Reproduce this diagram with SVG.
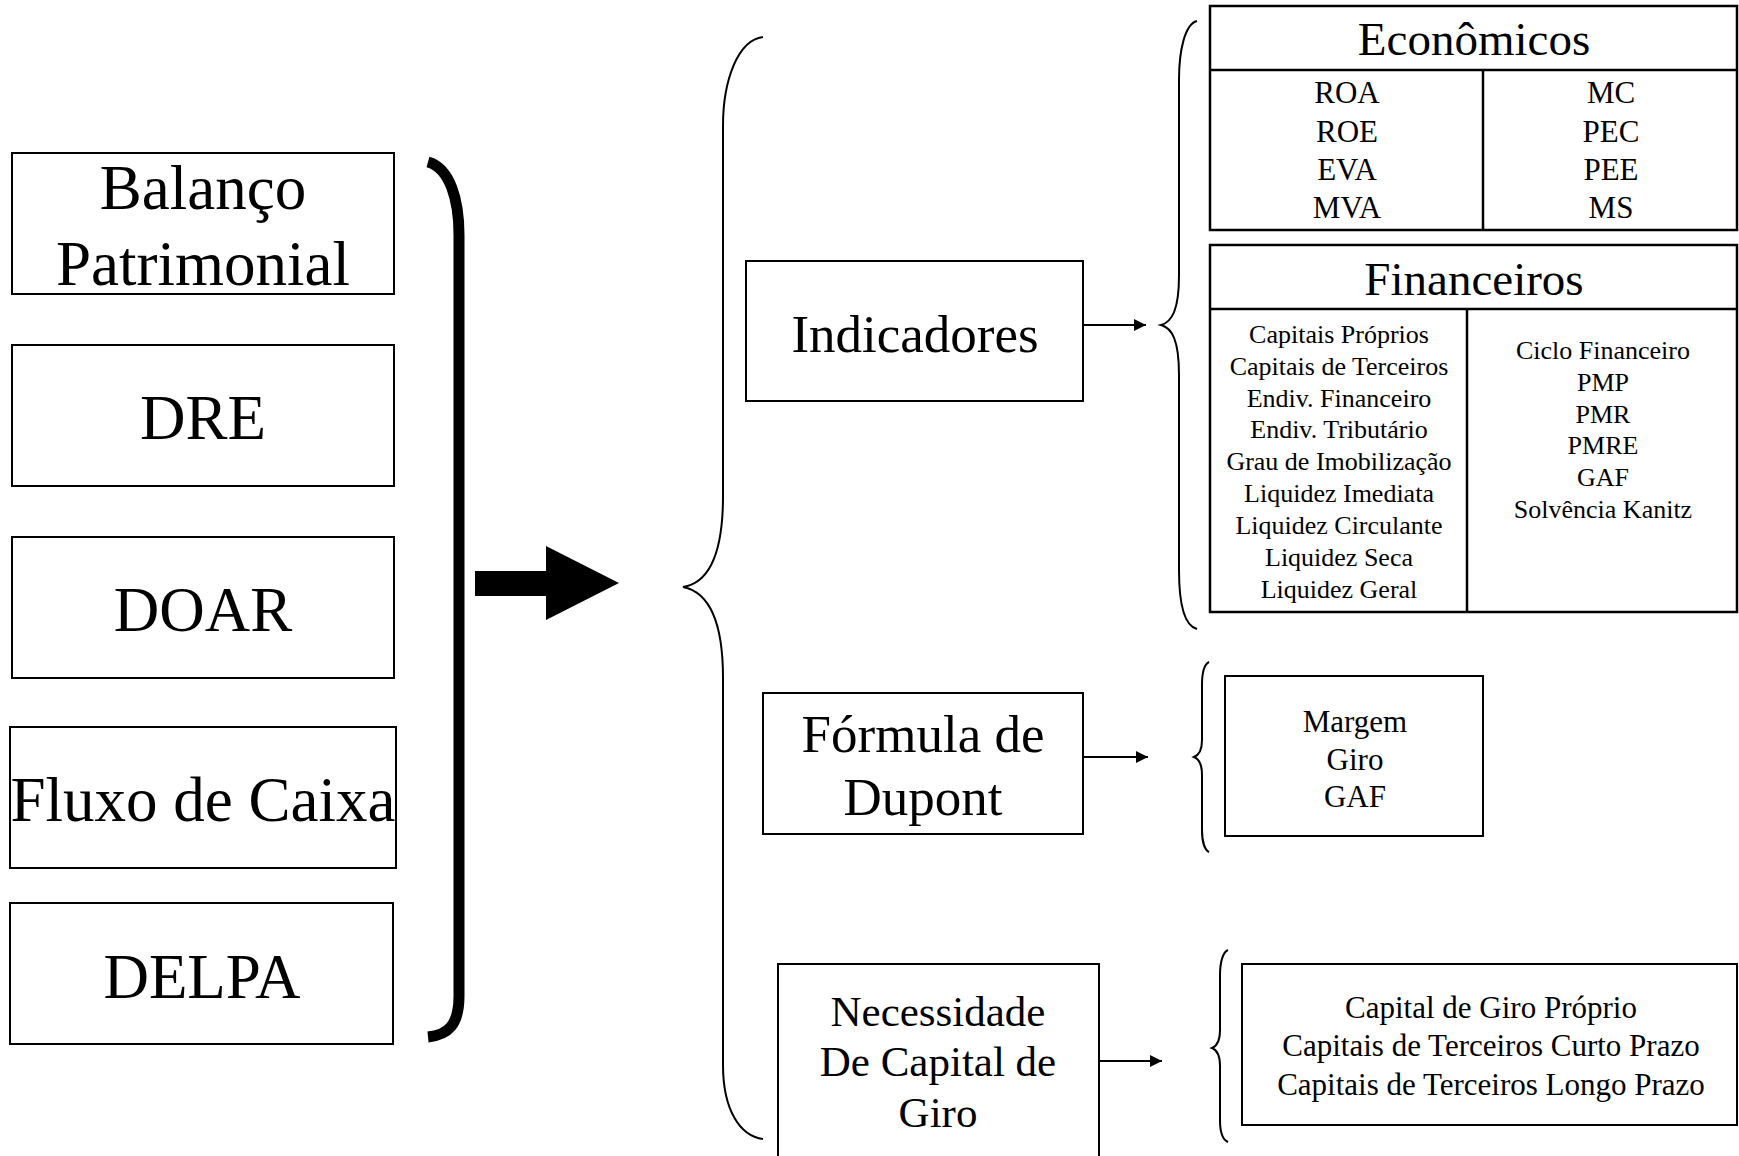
<svg xmlns="http://www.w3.org/2000/svg" width="1739" height="1156" viewBox="0 0 1739 1156">
<style>
text{font-family:"Liberation Serif","Times New Roman",serif;fill:#000;text-anchor:middle}
.box{fill:#fff;stroke:#000;stroke-width:2}
.tbl{fill:#fff;stroke:#000;stroke-width:2.5}
.ln{fill:none;stroke:#000;stroke-width:2.5}
.brace{fill:none;stroke:#000;stroke-width:2}
.big{font-size:63px}
.mid{font-size:53px}
.hd{font-size:47px}
.it{font-size:31px}
.sm{font-size:26px}
</style>
<defs>
<marker id="ah" viewBox="0 0 12 12" refX="12" refY="6" markerWidth="12" markerHeight="12" markerUnits="userSpaceOnUse" orient="auto">
<path d="M0,0 L12,6 L0,12 Z" fill="#000"/>
</marker>
</defs>
<rect width="1739" height="1156" fill="#fff"/>

<g id="balanco"><rect class="box" x="12" y="153" width="382" height="141"/><text class="big" x="203" y="209">Balanço</text><text class="big" x="203" y="285">Patrimonial</text></g>
<g id="dre"><rect class="box" x="12" y="345" width="382" height="141"/><text class="big" x="203" y="439">DRE</text></g>
<g id="doar"><rect class="box" x="12" y="537" width="382" height="141"/><text class="big" x="203" y="631">DOAR</text></g>
<g id="fluxo"><rect class="box" x="10" y="727" width="386" height="141"/><text class="big" x="203" y="821">Fluxo de Caixa</text></g>
<g id="delpa"><rect class="box" x="10" y="903" width="383" height="141"/><text class="big" x="202" y="998">DELPA</text></g>

<g id="indicadores"><rect class="box" x="746" y="261" width="337" height="140"/><text class="mid" x="915" y="352">Indicadores</text></g>
<g id="dupont"><rect class="box" x="763" y="693" width="320" height="141"/><text class="mid" x="923" y="752">Fórmula de</text><text class="mid" x="923" y="815">Dupont</text></g>
<g id="ncg"><rect class="box" x="778" y="964" width="321" height="200"/><text style="font-size:43px" x="938" y="1026">Necessidade</text><text style="font-size:43px" x="938" y="1076">De Capital de</text><text style="font-size:43px" x="938" y="1127">Giro</text></g>

<g id="economicos">
<rect class="tbl" x="1210" y="6" width="527" height="224"/>
<line class="ln" x1="1210" y1="70" x2="1737" y2="70"/>
<line class="ln" x1="1483" y1="70" x2="1483" y2="230"/>
<text class="hd" x="1474" y="55">Econômicos</text>
<text class="it" x="1347" y="103">ROA</text><text class="it" x="1347" y="142">ROE</text><text class="it" x="1347" y="180">EVA</text><text class="it" x="1347" y="218">MVA</text>
<text class="it" x="1611" y="103">MC</text><text class="it" x="1611" y="142">PEC</text><text class="it" x="1611" y="180">PEE</text><text class="it" x="1611" y="218">MS</text>
</g>

<g id="financeiros">
<rect class="tbl" x="1210" y="245" width="527" height="367"/>
<line class="ln" x1="1210" y1="309" x2="1737" y2="309"/>
<line class="ln" x1="1467" y1="309" x2="1467" y2="612"/>
<text class="hd" x="1474" y="295">Financeiros</text>
<text class="sm" x="1339" y="343">Capitais Próprios</text>
<text class="sm" x="1339" y="375">Capitais de Terceiros</text>
<text class="sm" x="1339" y="407">Endiv. Financeiro</text>
<text class="sm" x="1339" y="438">Endiv. Tributário</text>
<text class="sm" x="1339" y="470">Grau de Imobilização</text>
<text class="sm" x="1339" y="502">Liquidez Imediata</text>
<text class="sm" x="1339" y="534">Liquidez Circulante</text>
<text class="sm" x="1339" y="566">Liquidez Seca</text>
<text class="sm" x="1339" y="598">Liquidez Geral</text>
<text class="sm" x="1603" y="359">Ciclo Financeiro</text>
<text class="sm" x="1603" y="391">PMP</text>
<text class="sm" x="1603" y="423">PMR</text>
<text class="sm" x="1603" y="454">PMRE</text>
<text class="sm" x="1603" y="486">GAF</text>
<text class="sm" x="1603" y="518">Solvência Kanitz</text>
</g>

<g id="dupont-items"><rect class="box" x="1225" y="676" width="258" height="160"/><text class="it" x="1355" y="732">Margem</text><text class="it" x="1355" y="770">Giro</text><text class="it" x="1355" y="807">GAF</text></g>

<g id="ncg-items"><rect class="box" x="1242" y="964" width="495" height="161"/><text class="it" x="1491" y="1018">Capital de Giro Próprio</text><text class="it" x="1491" y="1056">Capitais de Terceiros Curto Prazo</text><text class="it" x="1491" y="1095">Capitais de Terceiros Longo Prazo</text></g>

<g id="connectors">
<path d="M428,162 C450,168 459,200 459,235 L459,996 C459,1025 448,1035 428,1037" fill="none" stroke="#000" stroke-width="11"/>
<path d="M475,571 L546,571 L546,546 L619,583 L546,620 L546,596 L475,596 Z" fill="#000"/>
<path class="brace" d="M763,37 C738,40 723,80 723,126 L723,496 C723,555 708,583 683,587 C708,592 723,620 723,678 L723,1065 C723,1110 740,1136 763,1139"/>
<path class="brace" d="M1197,21 C1185,24 1179,50 1179,80 L1179,275 C1179,310 1172,322 1161,325 C1172,328 1179,340 1179,375 L1179,570 C1179,605 1185,626 1197,629"/>
<path class="brace" d="M1209,662 C1205,664 1202,672 1202,685 L1202,740 C1202,750 1199,755 1194,757 C1199,759 1202,764 1202,775 L1202,830 C1202,842 1205,850 1209,852"/>
<path class="brace" d="M1228,950 C1223,952 1220,962 1220,975 L1220,1030 C1220,1040 1217,1046 1212,1048 C1217,1050 1220,1056 1220,1066 L1220,1120 C1220,1132 1223,1140 1228,1142"/>
<line x1="1083" y1="325" x2="1146" y2="325" stroke="#000" stroke-width="2" marker-end="url(#ah)"/>
<line x1="1083" y1="757" x2="1148" y2="757" stroke="#000" stroke-width="2" marker-end="url(#ah)"/>
<line x1="1099" y1="1061" x2="1162" y2="1061" stroke="#000" stroke-width="2" marker-end="url(#ah)"/>
</g>
</svg>
